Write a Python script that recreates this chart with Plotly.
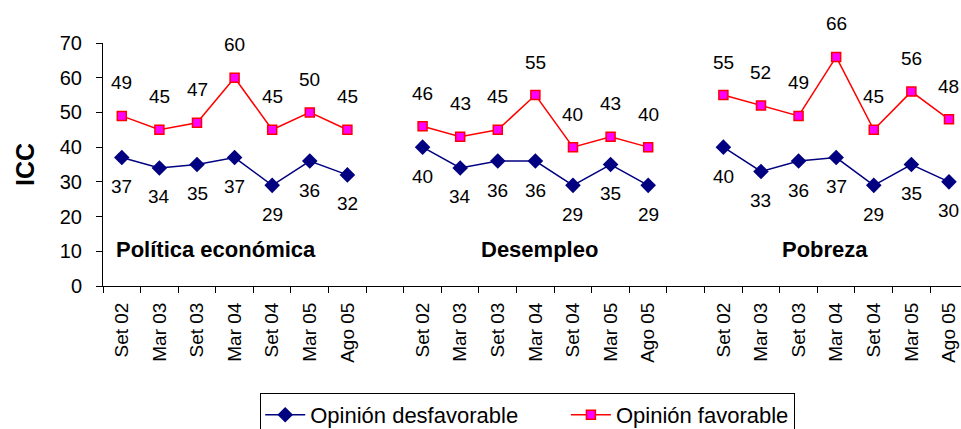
import plotly.graph_objects as go

periods = ["Set 02", "Mar 03", "Set 03", "Mar 04", "Set 04", "Mar 05", "Ago 05"]
groups = ["Política económica", "Desempleo", "Pobreza"]
desfav = {
    "Política económica": [37, 34, 35, 37, 29, 36, 32],
    "Desempleo": [40, 34, 36, 36, 29, 35, 29],
    "Pobreza": [40, 33, 36, 37, 29, 35, 30],
}
fav = {
    "Política económica": [49, 45, 47, 60, 45, 50, 45],
    "Desempleo": [46, 43, 45, 55, 40, 43, 40],
    "Pobreza": [55, 52, 49, 66, 45, 56, 48],
}
series_names = ["Opinión desfavorable", "Opinión favorable"]

FONT = "Arial, Liberation Sans, sans-serif"
NARROW = "Liberation Sans Narrow, Arial Narrow, Arial, sans-serif"
NAVY = "#000080"
RED = "#FF0000"
MAG = "#FF00FF"

slot = len(periods) + 1
fig = go.Figure()
xs_all, ticktext = [], []
annotations = []
for gi, g in enumerate(groups):
    xs = [gi * slot + i for i in range(len(periods))]
    xs_all += xs
    ticktext += periods
    fig.add_trace(go.Scatter(
        x=xs, y=desfav[g], mode="lines+markers", name=series_names[0] + "\u00a0" * 7,
        legendgroup="d", showlegend=(gi == 0),
        line=dict(color=NAVY, width=1.5),
        marker=dict(symbol="diamond", size=12, color=NAVY),
    ))
    fig.add_trace(go.Scatter(
        x=xs, y=fav[g], mode="lines+markers", name=series_names[1],
        legendgroup="f", showlegend=(gi == 0),
        line=dict(color=RED, width=1.5),
        marker=dict(symbol="square", size=9, color=MAG, line=dict(color=RED, width=1.5)),
    ))
    for x, v in zip(xs, fav[g]):
        annotations.append(dict(x=x, y=v, text=str(v), showarrow=False, yshift=33,
                                font=dict(family=FONT, size=19, color="black")))
    for x, v in zip(xs, desfav[g]):
        annotations.append(dict(x=x, y=v, text=str(v), showarrow=False, yshift=-29,
                                font=dict(family=FONT, size=19, color="black")))

group_label_x = [2.5, 11.1, 18.7]
for g, gx in zip(groups, group_label_x):
    annotations.append(dict(x=gx, y=10.4, text="<b>%s</b>" % g, showarrow=False,
                            font=dict(family=FONT, size=22, color="black")))

n_slots = 3 * slot - 1
fig.update_layout(
    width=961, height=429,
    margin=dict(l=103, r=0, t=43, b=143, autoexpand=False),
    paper_bgcolor="white", plot_bgcolor="white",
    font=dict(family=FONT, color="black"),
    annotations=annotations,
    showlegend=True,
    legend=dict(orientation="h", x=0.495, xanchor="center",
                yref="container", y=1 - 393 / 429, yanchor="top",
                bordercolor="black", borderwidth=1, bgcolor="white",
                font=dict(family=FONT, size=22, color="black"),
                itemwidth=40),
    xaxis=dict(
        range=[-0.5, n_slots - 0.5 - 0.18], showgrid=False, zeroline=False,
        showline=True, linecolor="black", linewidth=1, automargin=False,
        tickmode="array", tickvals=xs_all, ticktext=ticktext,
        ticks="outside", ticklen=0, tickangle=-90, ticklabelstandoff=8,
        tickfont=dict(family=NARROW, size=19, color="black"),
        minor=dict(tickvals=[i - 0.5 for i in range(n_slots + 1)], ticks="outside",
                   ticklen=6, tickcolor="black", showgrid=False),
    ),
    yaxis=dict(
        range=[0, 70], dtick=10, showgrid=False, zeroline=False,
        showline=True, linecolor="black", linewidth=1, automargin=False,
        ticks="outside", ticklen=6, tickcolor="black", ticklabelstandoff=10,
        tickfont=dict(family=FONT, size=20, color="black"),
        title=dict(text="<b>ICC</b>", font=dict(family=FONT, size=25, color="black"), standoff=18),
    ),
)
for tr in fig.data:
    tr.cliponaxis = False

fig.write_html("out.html", config={"displayModeBar": False},
               post_script="document.body.style.margin='0px';document.body.style.overflow='hidden';")
